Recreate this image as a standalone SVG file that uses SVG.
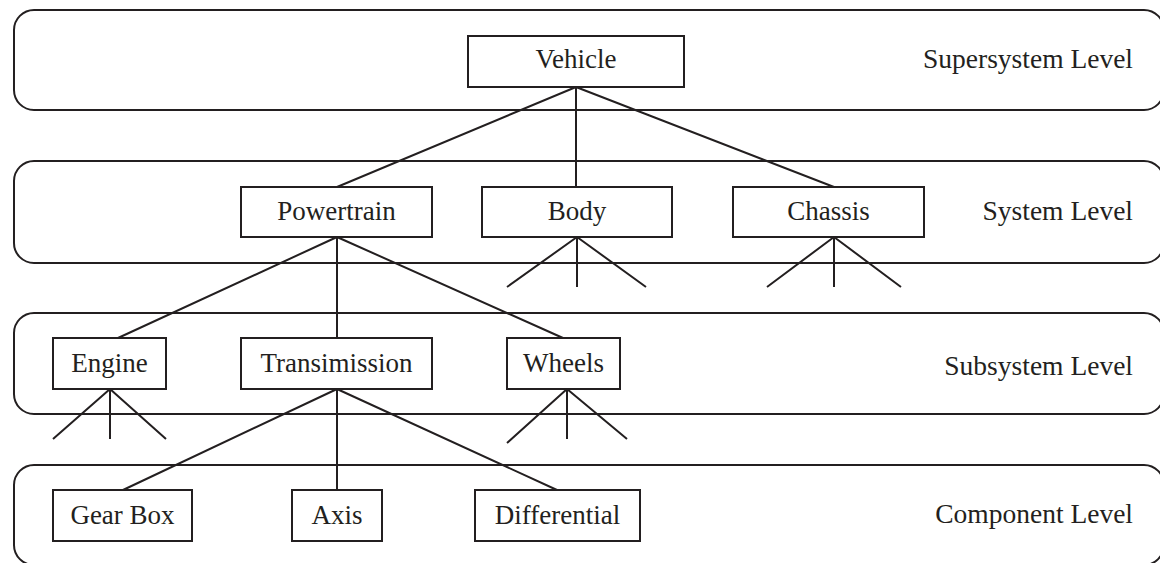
<svg xmlns="http://www.w3.org/2000/svg" width="1160" height="563" viewBox="0 0 1160 563">
  <style>
    .band { fill: none; stroke: #231f20; stroke-width: 2; }
    .box { fill: #ffffff; stroke: #231f20; stroke-width: 2; }
    .link { fill: none; stroke: #231f20; stroke-width: 2; }
    .lbl { font-family: "Liberation Serif", "DejaVu Serif", serif; font-size: 27px; fill: #231f20; text-anchor: middle; }
    .lvl { font-family: "Liberation Serif", "DejaVu Serif", serif; font-size: 27.5px; fill: #231f20; text-anchor: end; }
  </style>
  <rect width="1160" height="563" fill="#ffffff"/>

  <!-- level bands -->
  <g id="levels">
    <rect class="band" x="14" y="10" width="1150" height="100" rx="20" ry="20"/>
    <rect class="band" x="14" y="161" width="1150" height="102" rx="20" ry="20"/>
    <rect class="band" x="14" y="313" width="1150" height="101" rx="20" ry="20"/>
    <rect class="band" x="14" y="465" width="1150" height="100" rx="20" ry="20"/>
    <text class="lvl" x="1133" y="68">Supersystem Level</text>
    <text class="lvl" x="1133" y="220">System Level</text>
    <text class="lvl" x="1133" y="375">Subsystem Level</text>
    <text class="lvl" x="1133" y="523">Component Level</text>
  </g>

  <!-- connectors -->
  <g id="connectors">
    <path class="link" d="M576,87 L337,187 M576,87 L576,187 M576,87 L834,187"/>
    <path class="link" d="M337,237 L118,338 M337,237 L337,338 M337,237 L563,338"/>
    <path class="link" d="M577,237 L507,287 M577,237 L577,287 M577,237 L646,287"/>
    <path class="link" d="M834,237 L767,287 M834,237 L834,287 M834,237 L901,287"/>
    <path class="link" d="M110,389 L53,439 M110,389 L110,439 M110,389 L166,439"/>
    <path class="link" d="M567,389 L507,443 M567,389 L567,439 M567,389 L627,439"/>
    <path class="link" d="M337,389 L123,490 M337,389 L337,490 M337,389 L557,490"/>
  </g>

  <g id="vehicle">
    <rect class="box" x="468" y="36" width="216" height="51"/>
    <text class="lbl" x="576" y="68">Vehicle</text>
  </g>

  <g id="powertrain">
    <rect class="box" x="241" y="187" width="191" height="50"/>
    <text class="lbl" x="336.5" y="220">Powertrain</text>
  </g>
  <g id="body">
    <rect class="box" x="482" y="187" width="190" height="50"/>
    <text class="lbl" x="577" y="220">Body</text>
  </g>
  <g id="chassis">
    <rect class="box" x="733" y="187" width="191" height="50"/>
    <text class="lbl" x="828.5" y="220">Chassis</text>
  </g>

  <g id="engine">
    <rect class="box" x="53" y="338" width="113" height="51"/>
    <text class="lbl" x="109.5" y="372">Engine</text>
  </g>
  <g id="transmission">
    <rect class="box" x="241" y="338" width="191" height="51"/>
    <text class="lbl" x="336.5" y="372">Transimission</text>
  </g>
  <g id="wheels">
    <rect class="box" x="507" y="338" width="113" height="51"/>
    <text class="lbl" x="563.5" y="372">Wheels</text>
  </g>

  <g id="gearbox">
    <rect class="box" x="53" y="490" width="139" height="51"/>
    <text class="lbl" x="122.5" y="524">Gear Box</text>
  </g>
  <g id="axis">
    <rect class="box" x="292" y="490" width="90" height="51"/>
    <text class="lbl" x="337" y="524">Axis</text>
  </g>
  <g id="differential">
    <rect class="box" x="475" y="490" width="165" height="51"/>
    <text class="lbl" x="557.5" y="524">Differential</text>
  </g>
</svg>
